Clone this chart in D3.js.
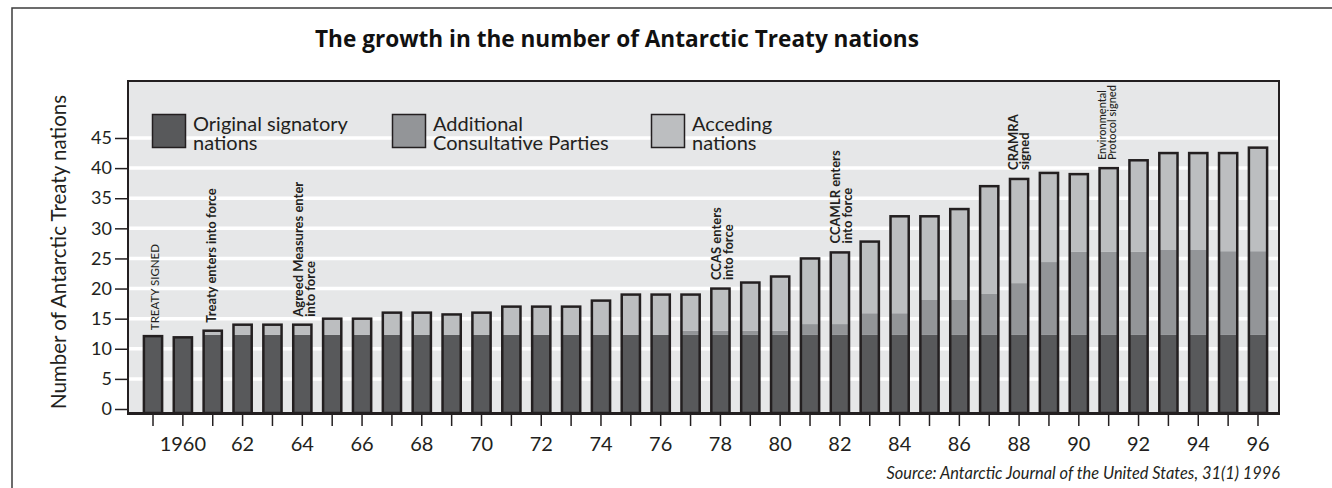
<!DOCTYPE html>
<html>
<head>
<meta charset="utf-8">
<script src="https://cdn.jsdelivr.net/npm/d3@7/dist/d3.min.js"></script>
<style>
  html, body { margin: 0; padding: 0; background: #fff; }
  svg { display: block; font-family: Lato, "Open Sans", sans-serif; }
  .ax text { fill: #231f20; }
  .ax path { display: none; }
  .ax line { stroke: #231f20; stroke-width: 1.5; }
</style>
</head>
<body>
<svg id="chart" width="1332" height="488"></svg>
<script>
// ---- data ----
const years = [1959, 1960, 1961, 1962, 1963, 1964, 1965, 1966, 1967, 1968,
  1969, 1970, 1971, 1972, 1973, 1974, 1975, 1976, 1977, 1978,
  1979, 1980, 1981, 1982, 1983, 1984, 1985, 1986, 1987, 1988,
  1989, 1990, 1991, 1992, 1993, 1994, 1995, 1996];

const original = [12.1, 11.9, 12.3, 12.3, 12.3, 12.3, 12.3, 12.3, 12.3, 12.3,
  12.3, 12.3, 12.3, 12.3, 12.3, 12.3, 12.3, 12.3, 12.3, 12.3,
  12.3, 12.3, 12.3, 12.3, 12.3, 12.3, 12.3, 12.3, 12.3, 12.3,
  12.3, 12.3, 12.3, 12.3, 12.3, 12.3, 12.3, 12.3];

const additional = [0, 0, 0, 0, 0, 0, 0, 0, 0, 0,
  0, 0, 0, 0, 0, 0, 0, 0, 0.7, 0.7,
  0.7, 0.7, 1.8, 1.8, 3.6, 3.6, 5.8, 5.8, 6.8, 8.6,
  12.1, 13.8, 13.8, 13.8, 14.1, 14.1, 13.9, 13.9];

const acceding = [0, 0, 0.7, 1.7, 1.7, 1.7, 2.7, 2.7, 3.7, 3.7,
  3.4, 3.7, 4.7, 4.7, 4.7, 5.7, 6.7, 6.7, 6.0, 7.0,
  8.0, 9.0, 10.9, 11.9, 11.9, 16.1, 13.9, 15.1, 17.9, 17.3,
  14.8, 12.9, 13.9, 15.2, 16.1, 16.1, 16.3, 17.2];

const yTicks = [0, 5, 10, 15, 20, 25, 30, 35, 40, 45];
const xTickLabels = { 1960: '1960', 1962: '62', 1964: '64', 1966: '66', 1968: '68',
  1970: '70', 1972: '72', 1974: '74', 1976: '76', 1978: '78', 1980: '80',
  1982: '82', 1984: '84', 1986: '86', 1988: '88', 1990: '90', 1992: '92',
  1994: '94', 1996: '96' };

const seriesKeys = ['original', 'additional', 'acceding'];
const legendLabels = [
  ['Original signatory', 'nations'],
  ['Additional', 'Consultative Parties'],
  ['Acceding', 'nations']
];

const annotYears = [1959, 1961, 1964, 1978, 1982, 1988, 1991];
const annotLines = [
  ['TREATY SIGNED'],
  ['Treaty enters into force'],
  ['Agreed Measures enter', 'into force'],
  ['CCAS enters', 'into force'],
  ['CCAMLR enters', 'into force'],
  ['CRAMRA', 'signed'],
  ['Environmental', 'Protocol signed']
];

// ---- styles ----
const colors = { original: '#58595b', additional: '#939598', acceding: '#bcbec0' };
const annotStyle = [
  { size: 11.5, weight: 400, dx: 6, gap: 6, lh: 12 },
  { size: 13, weight: 700, dx: 3.5, gap: 8, lh: 12 },
  { size: 13, weight: 700, dx: 0.7, gap: 8, lh: 12 },
  { size: 13, weight: 700, dx: 0.7, gap: 8.5, lh: 12 },
  { size: 13, weight: 700, dx: 0, gap: 9, lh: 12 },
  { size: 13, weight: 700, dx: -1, gap: 9, lh: 11 },
  { size: 11, weight: 500, dx: -2.5, gap: 8, lh: 10 }
];

const svg = d3.select('#chart');

// outer frame (top + left)
svg.append('path')
  .attr('d', 'M12,488 V8 H1332')
  .attr('fill', 'none').attr('stroke', '#3c3c3c').attr('stroke-width', 1.5);

// title
svg.append('text')
  .attr('x', 315).attr('y', 47)
  .attr('font-family', '"Open Sans", Lato, sans-serif')
  .attr('font-size', 22.6).attr('font-weight', 700).attr('fill', '#111')
  .text('The growth in the number of Antarctic Treaty nations');

const plot = { left: 128, right: 1279, top: 81 };

const x = d3.scaleBand()
  .domain(years)
  .range([138.07, 1272.93])
  .paddingInner(0.39)
  .paddingOuter(0.195);

const y = d3.scaleLinear().domain([0, 45]).range([409, 138]);
const AXIS_Y = y(0) + 4;

// plot background
svg.append('rect')
  .attr('x', plot.left).attr('y', plot.top)
  .attr('width', plot.right - plot.left).attr('height', AXIS_Y - plot.top)
  .attr('fill', '#e6e7e8');

// white gridlines
svg.append('g').selectAll('line')
  .data(yTicks.filter(d => d > 0))
  .join('line')
  .attr('x1', plot.left).attr('x2', plot.right)
  .attr('y1', d => y(d)).attr('y2', d => y(d))
  .attr('stroke', '#fff').attr('stroke-width', 3.5);

// stacked bars
const table = years.map((yr, i) => ({
  year: yr, original: original[i], additional: additional[i], acceding: acceding[i]
}));
const stacked = d3.stack().keys(seriesKeys)(table);
const bw = x.bandwidth();

svg.append('g').selectAll('g')
  .data(stacked)
  .join('g')
  .attr('fill', s => colors[s.key])
  .selectAll('rect')
  .data(s => s.filter(d => d[1] - d[0] > 0))
  .join('rect')
  .attr('x', d => x(d.data.year))
  .attr('width', bw)
  .attr('y', d => y(d[1]))
  .attr('height', d => (d[0] === 0 ? AXIS_Y : y(d[0])) - y(d[1]));

// bar outlines
const totals = table.map(d => d.original + d.additional + d.acceding);
svg.append('g').selectAll('rect')
  .data(table)
  .join('rect')
  .attr('x', d => x(d.year))
  .attr('width', bw)
  .attr('y', (d, i) => y(totals[i]))
  .attr('height', (d, i) => AXIS_Y - y(totals[i]))
  .attr('fill', 'none')
  .attr('stroke', '#231f20')
  .attr('stroke-width', 2.5);

// plot border and baseline
svg.append('path')
  .attr('d', `M${plot.left},${AXIS_Y + 2} V${plot.top} H${plot.right} V${AXIS_Y + 2}`)
  .attr('fill', 'none').attr('stroke', '#231f20').attr('stroke-width', 2);
svg.append('line')
  .attr('x1', plot.left - 1).attr('x2', plot.right + 1)
  .attr('y1', AXIS_Y + 0.5).attr('y2', AXIS_Y + 0.5)
  .attr('stroke', '#231f20').attr('stroke-width', 3);

// y axis
svg.append('g')
  .attr('class', 'ax')
  .attr('transform', `translate(${plot.left - 1},0)`)
  .call(d3.axisLeft(y).tickValues(yTicks).tickSize(12).tickPadding(3))
  .call(g => g.selectAll('text').attr('font-size', 18).attr('font-family', 'Lato'));

// x axis
svg.append('g')
  .attr('class', 'ax')
  .attr('transform', `translate(0,${AXIS_Y + 2})`)
  .call(d3.axisBottom(x).tickSize(11).tickPadding(11)
    .tickFormat(d => xTickLabels[d] || ''))
  .call(g => g.selectAll('text').attr('font-size', 20).attr('font-family', 'Lato'));

// y axis title
svg.append('text')
  .attr('transform', 'translate(66,252) rotate(-90)')
  .attr('text-anchor', 'middle')
  .attr('font-size', 20.5).attr('fill', '#231f20')
  .text('Number of Antarctic Treaty nations');

// legend
const legendX = [152, 392, 651];
const legend = svg.append('g').selectAll('g')
  .data(seriesKeys)
  .join('g')
  .attr('transform', (d, i) => `translate(${legendX[i]},114)`);
legend.append('rect')
  .attr('x', 0.5).attr('y', 0.5).attr('width', 33).attr('height', 33)
  .attr('fill', d => colors[d]).attr('stroke', '#231f20').attr('stroke-width', 1.5);
legend.append('text')
  .attr('font-size', 20).attr('fill', '#231f20')
  .selectAll('tspan')
  .data((d, i) => legendLabels[i])
  .join('tspan')
  .attr('x', 41)
  .attr('y', (d, j) => 16.5 + j * 19)
  .text(d => d);

// event annotations
annotYears.forEach((yr, i) => {
  const st = annotStyle[i];
  const idx = years.indexOf(yr);
  const cx = x(yr) + bw / 2 + st.dx;
  const yb = y(totals[idx]) - st.gap;
  svg.append('text')
    .attr('transform', `translate(${cx},${yb}) rotate(-90)`)
    .attr('font-size', st.size).attr('font-weight', st.weight).attr('fill', '#231f20')
    .selectAll('tspan')
    .data(annotLines[i])
    .join('tspan')
    .attr('x', 0)
    .attr('y', (d, j) => j * st.lh)
    .text(d => d);
});

// source
svg.append('text')
  .attr('x', 1280).attr('y', 479)
  .attr('text-anchor', 'end')
  .attr('font-size', 16.4).attr('font-style', 'italic').attr('fill', '#231f20')
  .text('Source: Antarctic Journal of the United States, 31(1) 1996');
</script>
</body>
</html>
